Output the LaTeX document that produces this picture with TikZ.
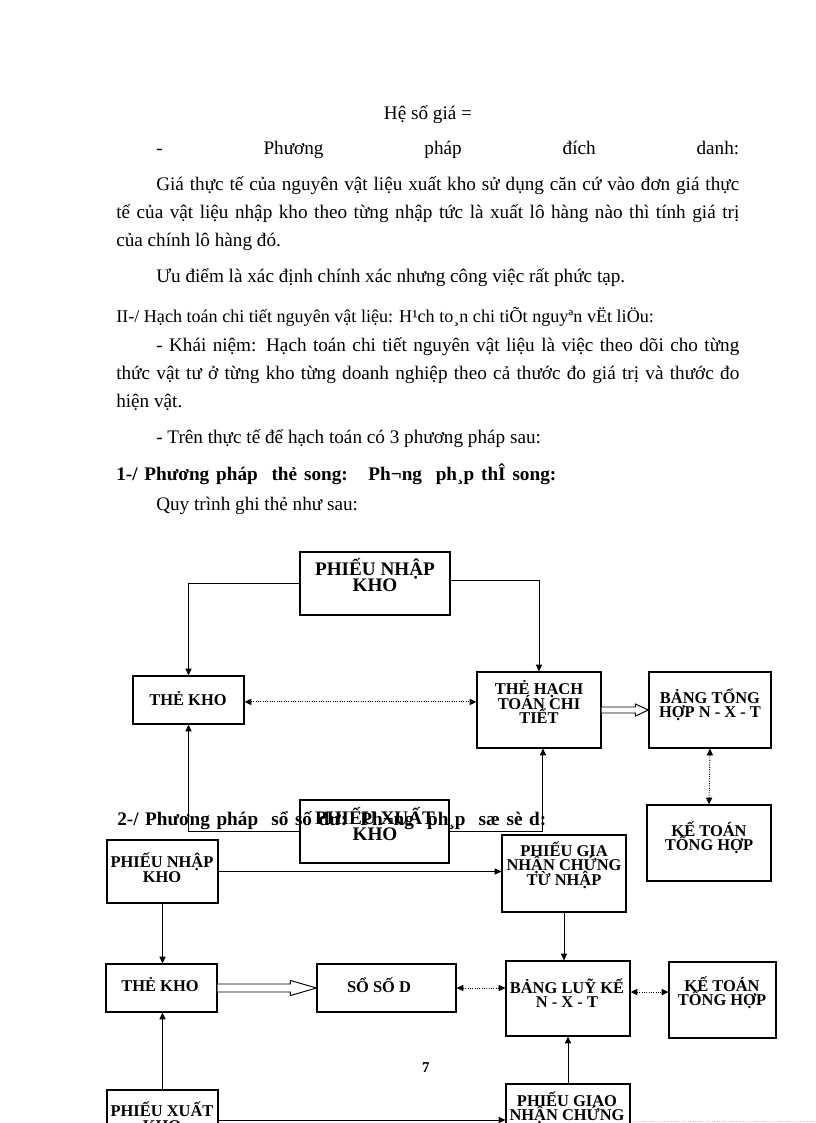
\documentclass[tikz,border=0pt]{standalone}
\usepackage{fontspec}
\setmainfont{Liberation Serif}
\usetikzlibrary{arrows.meta,calc,fit}
\newcommand\blockarrow[5]{%
  \draw[blk] ($(#1)+(0,-#3)$) -- ($(#2)+(-#5,-#3)$) -- ($(#2)+(-#5,-#4)$) -- (#2)
    -- ($(#2)+(-#5,#4)$) -- ($(#2)+(-#5,#3)$) -- ($(#1)+(0,#3)$);}
\begin{document}
\begin{tikzpicture}[x=0.7295pt,y=-0.7295pt,
  box/.style={draw,line width=0.8pt,inner sep=0pt},
  lbl/.style={font={\bfseries\fontsize{12}{10.6}\selectfont\lineskiplimit=-30pt\lineskip=0pt},align=center,inner sep=0pt},
  big/.style={font={\bfseries\fontsize{14}{11.7}\selectfont\lineskiplimit=-30pt\lineskip=0pt},align=center,inner sep=0pt},
  arr/.style={line width=0.7pt,-{Triangle[length=5pt,width=4.5pt]}},
  darr/.style={line width=0.7pt,densely dotted,{Triangle[length=5pt,width=4.5pt]}-{Triangle[length=5pt,width=4.5pt]}},
  blk/.style={line width=0.7pt,fill=white},
  body/.style={anchor=base west,inner sep=0pt,font=\fontsize{14}{16}\selectfont},
  bodyb/.style={body,font=\bfseries\fontsize{14}{16}\selectfont},
  faint/.style={gray!45,densely dotted,line width=0.6pt}]
\useasboundingbox (0,0) rectangle (816,1123);
\clip (0,0) rectangle (816,1123);

% ---------- body text ----------
\node[anchor=base,inner sep=0pt,font=\fontsize{14}{16}\selectfont] (t0) at (428,119) {Hệ số giá =};
\node[body] (t1) at (156,154) {\makebox[425.3pt][s]{- Phương pháp đích danh:}};
\node[body] (t2) at (156,190) {\makebox[425.3pt][s]{Giá thực tế của nguyên vật liệu xuất kho sử dụng căn cứ vào đơn giá thực}};
\node[body] (t3) at (116,218) {\makebox[454.5pt][s]{tế của vật liệu nhập kho theo từng nhập tức là xuất lô hàng nào thì tính giá trị}};
\node[body] (t4) at (116,246) {của chính lô hàng đó.};
\node[body] (t5) at (156,282) {Ưu điểm là xác định chính xác nhưng công việc rất phức tạp.};
\node[body,font=\fontsize{13.2}{14}\selectfont] (t6) at (116,322) {II-/ Hạch toán chi tiết nguyên vật liệu: H¹ch to¸n chi tiÕt nguyªn vËt liÖu:};
\node[body] (t7) at (156,351) {\makebox[425.3pt][s]{- Khái niệm: Hạch toán chi tiết nguyên vật liệu là việc theo dõi cho từng}};
\node[body] (t8) at (116,379) {\makebox[454.5pt][s]{thức vật tư ở từng kho từng doanh nghiệp theo cả thước đo giá trị và thước đo}};
\node[body] (t9) at (116,407) {hiện vật.};
\node[body] (t10) at (156,443) {- Trên thực tế để hạch toán có 3 phương pháp sau:};
\node[bodyb] (t11) at (116,480) {\makebox[321pt][s]{1-/ Phương pháp\ \ thẻ song:\ \ \ Ph¬ng\ \ ph¸p thÎ song:}};
\node[body] (t12) at (156,510) {Quy trình ghi thẻ như sau:};

% ---------- diagram 1 boxes ----------
\node[box,fit={(300,552) (450,615)}] (pnkA) {};
\node[box,fit={(133,676) (244,724)}] (tkA) {};
\node[box,fit={(477,672) (601,748)}] (htA) {};
\node[box,fit={(649,672) (771,748)}] (bthA) {};
\node[box,fit={(300,800) (449,863)}] (pxkA) {};
\node[box,fit={(647,805) (771,881)}] (ktA) {};

% ---------- diagram 2 boxes ----------
\node[box,fit={(107,840) (218,903)}] (pnkB) {};
\node[box,fit={(502,835) (626,912)}] (pgB) {};
\node[box,fit={(106,964) (217,1012)}] (tkB) {};
\node[box,fit={(317,964) (456,1012)}] (soB) {};
\node[box,fit={(506,961) (630,1036)}] (blB) {};
\node[box,fit={(669,962) (776,1038)}] (ktB) {};
\node[box,fit={(107,1090) (218,1150)}] (pxkB) {};
\node[box,fit={(506,1084) (630,1158)}] (pgxB) {};
\coordinate (edgeR) at (816,1121);

% ---------- diagram 1 connectors ----------
\draw[arr] (pnkA.west) -| (tkA.north);
\draw[arr] ([yshift=2.5pt]pnkA.east) -| (htA.north);
\draw[darr] ([yshift=-1.4pt]tkA.east) -- ([yshift=-1.4pt]tkA.east -| htA.west);
\blockarrow{htA.east}{bthA.west}{3}{6}{13}
\draw[darr] (bthA.south) -- (ktA.north);
\draw[arr] (pxkA.west) -| (tkA.south);
\draw[arr] (pxkA.east) -| ([xshift=2.9pt]htA.south);

% ---------- diagram 2 connectors ----------
\draw[arr] (pnkB.east) -- (pnkB.east -| pgB.west);
\draw[arr] (pnkB.south) -- (pnkB.south |- tkB.north);
\blockarrow{tkB.east}{soB.west}{4}{7.5}{26}
\draw[darr] (soB.east) -- (soB.east -| blB.west);
\draw[darr] ([yshift=4.7pt]blB.east) -- ([yshift=4.7pt]blB.east -| ktB.west);
\draw[arr] (pgB.south) -- (pgB.south |- blB.north);
\draw[arr] (pxkB.north) -- (pxkB.north |- tkB.south);
\draw[arr] (pgxB.north) -- (pgxB.north |- blB.south);
\draw[arr] (pxkB.east) -- (pxkB.east -| pgxB.west);
\draw[faint] ([xshift=2pt]pgxB.east) -- (edgeR);

% ---------- labels ----------
\node[big] (pnkAt) at (375,575) {PHIẾU NHẬP\\KHO};
\node[lbl] (tkAt) at (188,699) {THẺ KHO};
\node[lbl] (htAt) at (539,702) {THẺ HẠCH\\TOÁN CHI\\TIẾT};
\node[lbl] (bthAt) at (710,705) {BẢNG TỔNG\\HỢP N - X - T};
\node[big] (pxkAt) at (375,824) {PHIẾU XUẤT\\KHO};
\node[lbl] (ktAt) at (709,838) {KẾ TOÁN\\TỔNG HỢP};
\node[lbl] (pnkBt) at (162,868) {PHIẾU NHẬP\\KHO};
\node[lbl] (pgBt) at (564,865) {PHIẾU GIA\\NHẬN CHỨNG\\TỪ NHẬP};
\node[lbl] (tkBt) at (160,985) {THẺ KHO};
\node[lbl] (soBt) at (379,985) {SỔ SỐ D};
\node[lbl] (blBt) at (567,993) {BẢNG LUỸ KẾ\\N - X - T};
\node[lbl] (ktBt) at (722,993) {KẾ TOÁN\\TỔNG HỢP};
\node[lbl] (pxkBt) at (162,1117) {PHIẾU XUẤT\\KHO};
\node[lbl] (pgxBt) at (567,1108) {PHIẾU GIAO\\NHẬN CHỨNG};

\node[bodyb] (t13) at (117,825) {\makebox[313pt][s]{2-/ Phương pháp\ \ sổ số dư:\ \ Ph¬ng\ \ ph¸p\ \ sæ sè d:}};
\node[anchor=base,inner sep=0pt,font=\bfseries\fontsize{11}{12}\selectfont] (pg) at (426,1072) {7};
\end{tikzpicture}
\end{document}
